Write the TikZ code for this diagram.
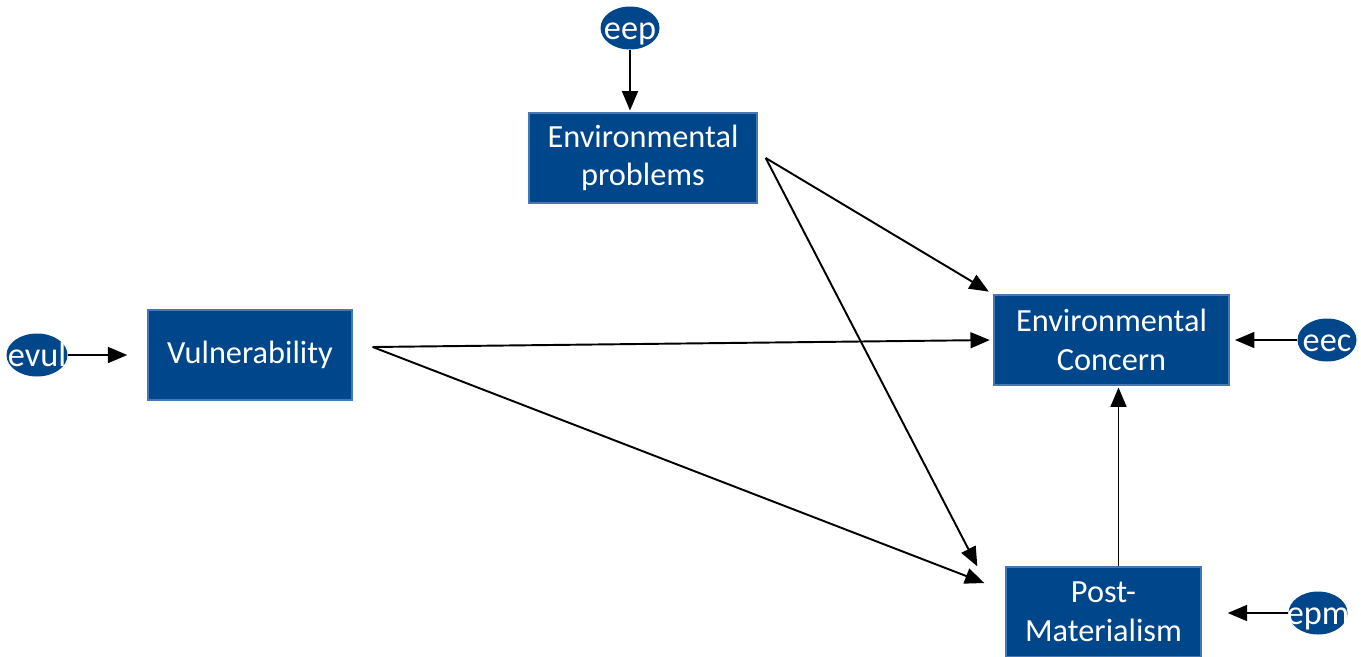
\documentclass[tikz,border=0pt]{standalone}
\usepackage{fontspec}
\setmainfont{Carlito}
\usepackage{tikz}
\usetikzlibrary{arrows.meta}
\usetikzlibrary{calc}
\usetikzlibrary{shapes.geometric}
\definecolor{boxblue}{RGB}{0,70,138}
\definecolor{edgeblue}{RGB}{70,120,180}
\tikzset{
  var/.style={draw=edgeblue, line width=0.8pt, fill=boxblue, text=white, align=center,
    minimum height=1.8cm, inner sep=0pt, font=\fontsize{18.4}{22}\selectfont},
  err/.style={ellipse, fill=boxblue, text=white, minimum width=1.18cm, minimum height=0.86cm,
    inner xsep=-14pt, inner ysep=-6pt, text height=13pt, text depth=0pt,
    font=\fontsize{19.5}{20}\selectfont},
  path/.style={line width=1.1pt, -{Triangle[length=11pt,width=9pt]}}
}

\begin{document}
\begin{tikzpicture}[x=0.02cm,y=-0.02cm]
            \useasboundingbox (0,0) rectangle (1361,656);
            \node[var, minimum width=4.56cm] (ep) at (643,158) {Environmental\\problems};
            \node[var, minimum width=4.08cm] (vul) at (250,355) {Vulnerability};
            \node[var, minimum width=4.7cm] (ec) at (1111.5,340) {Environmental\\Concern};
            \node[var, minimum width=3.9cm] (pm) at (1103.5,612) {Post-\\Materialism};
            \node[err] (eep) at (630,28) {eep};
            \node[err, minimum width=1.22cm] (evul) at (37,355) {evul};
            \node[err] (eec) at (1327,340) {eec};
            \node[err] (epm) at (1318,613) {epm};
            \coordinate (vo) at ($(vul.east)+(20,-8)$);
            \coordinate (eo) at ($(ep.east)+(8,0)$);
            \coordinate (pmt) at ($(pm.north)+(15,0)$);
            \draw[path, shorten >=1pt] (eep.south) -- (eep.south |- ep.north);
            \draw[path, shorten >=0.4cm] (evul.east) -- (evul.east -| vul.west);
            \draw[path, shorten >=2pt] (vo) -- (ec.west);
            \draw[path] (vo) -- ($(pm.west)+(-21,-29)$);
            \draw[path, shorten >=3pt] (eo) -- (ec.north west);
            \draw[path] (eo) -- ($(pm.north west)+(-28,0)$);
            \draw[path, shorten >=1pt] (pmt) -- (pmt |- ec.south);
            \draw[path, shorten >=3pt] (eec.west) -- (eec.west -| ec.east);
            \draw[path, shorten >=0.52cm] (epm.west) -- (epm.west -| pm.east);
        \end{tikzpicture}
\end{document}
